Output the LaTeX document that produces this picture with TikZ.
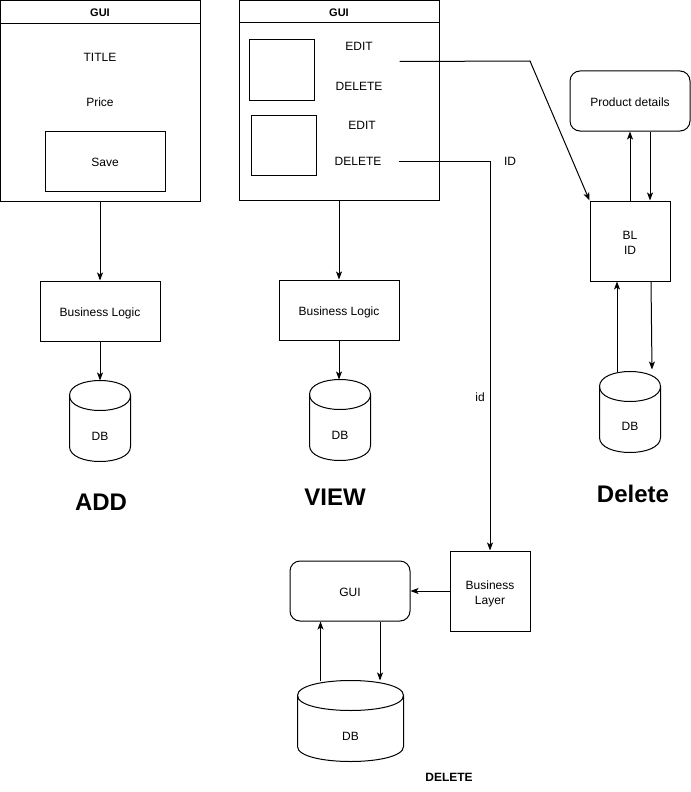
\documentclass[tikz,border=0pt]{standalone}
\usepackage{fontspec}
\setmainfont{Liberation Sans}
\usetikzlibrary{arrows.meta,calc}
\begin{document}
\begin{tikzpicture}[x=0.75pt, y=-0.75pt, line width=0.75pt,
		txt/.style={inner sep=0pt, font=\fontsize{9}{11}\selectfont},
		cell/.style={txt, minimum width=60pt},
		panel/.style={draw, minimum width=150pt, minimum height=150pt, inner sep=0pt},
		box/.style={draw, minimum width=90pt, minimum height=45pt, inner sep=0pt, align=center, text height=9.6pt, text depth=1pt, font=\fontsize{9}{11}\selectfont},
		sqbox/.style={box, minimum width=60pt, minimum height=60pt, text height=20.6pt},
		roundbox/.style={box, rounded corners=7.5pt},
		db/.style={minimum width=45pt, minimum height=60pt, inner sep=0pt},
		head/.style={inner sep=0pt, font=\fontsize{8.25}{10}\selectfont\bfseries},
		big/.style={inner sep=0pt, font=\fontsize{18}{22}\selectfont\bfseries},
		link/.style={-{Stealth[length=6pt, width=4.5pt, inset=1.5pt]}}]
	\useasboundingbox (0,0) rectangle (691,792);
	% ADD
	\node[panel] (guiadd) at (100,101) {};
	\draw (guiadd.west |- 0,24) -- (guiadd.east |- 0,24);
	\node[head] (guiaddhead) at (100,13) {GUI};
	\node[txt] (title) at (100,57.5) {TITLE};
	\node[txt] (price) at (100,102.5) {Price};
	\node[box] (save) at (105,161) {Save};
	\node[box] (bladd) at (100,311) {Business Logic};
	\node[db] (dbadd) at (100,421) {};
	\node[txt] (dbaddtext) at (100,436.5) {DB};
	\node[big] (addlabel) at (101,502) {ADD};
	% VIEW
	\node[panel] (guiview) at (339.5,100.5) {};
	\draw (guiview.west |- 0,23) -- (guiview.east |- 0,23);
	\node[head] (guiviewhead) at (339,13) {GUI};
	\node[draw, minimum width=48.75pt, minimum height=45pt] (itemone) at (281.5,70) {};
	\node[draw, minimum width=48.75pt, minimum height=45pt] (itemtwo) at (283.5,145) {};
	\node[cell] (editone) at (359,46.5) {EDIT};
	\node[cell] (delone) at (359,86.5) {DELETE};
	\node[cell] (edittwo) at (362,125.5) {EDIT};
	\node[cell] (deltwo) at (358,161.5) {DELETE};
	\node[box] (blview) at (339,310) {Business Logic};
	\node[db] (dbview) at (340,420) {};
	\node[txt] (dbviewtext) at (340,435.5) {DB};
	\node[big] (viewlabel) at (335,497) {VIEW};
	% Delete
	\node[roundbox] (product) at (630,101) {Product details};
	\node[sqbox] (blid) at (630,241) {BL\\ID};
	\node[db] (dbdel) at (630,412) {};
	\node[txt] (dbdeltext) at (630,426.5) {DB};
	\node[big] (deletelabel) at (633,494) {Delete};
	% DELETE
	\node[roundbox] (guidel) at (350,591) {GUI};
	\node[sqbox] (layer) at (490,591) {Business\\Layer};
	\node[db, minimum width=78.75pt] (dbbig) at (350.5,721) {};
	\node[txt] (dbbigtext) at (350.5,736.5) {DB};
	\node[txt, font=\fontsize{9}{11}\selectfont\bfseries] (deletesmall) at (449,777.5) {DELETE};
	\node[txt] (idlabel) at (510,161.5) {ID};
	\node[txt] (idsmall) at (480,397) {id};
	\coordinate (bend) at (530,61);

	\foreach \n in {dbadd,dbview,dbdel,dbbig}{
		\draw ($(\n.north west)+(0,15)$) .. controls ($(\n.north west)+(0,-5)$) and ($(\n.north east)+(0,-5)$) .. ($(\n.north east)+(0,15)$)
			-- ($(\n.south east)+(0,-15)$) .. controls ($(\n.south east)+(0,5)$) and ($(\n.south west)+(0,5)$) .. ($(\n.south west)+(0,-15)$) -- cycle;
		\draw ($(\n.north west)+(0,15)$) .. controls ($(\n.north west)+(0,35)$) and ($(\n.north east)+(0,35)$) .. ($(\n.north east)+(0,15)$);}

	\draw[link] (guiadd) -- (bladd);
	\draw[link] (bladd) -- (dbadd);
	\draw[link] (blview.north |- guiview.south) -- (blview.north);
	\draw[link] (blview.south) -- (blview.south |- dbview.north);
	\draw[link] ([yshift=-11.25pt]editone.east) -- (bend) -- (blid.north west);
	\draw[link] (deltwo.east) -- (layer.north |- deltwo.east) -- (layer.north);
	\draw[link] (blid.north) -- (product.south);
	\draw[link] ([xshift=15pt]product.south) -- ([xshift=15pt]blid.north);
	\draw[link] ([xshift=-9.75pt]dbdel.north) -- ([xshift=-9.75pt]blid.south);
	\draw[link] ([xshift=15.75pt]blid.south) -- ([xshift=16.5pt,yshift=1.5pt]dbdel.north);
	\draw[link] (layer.west) -- (guidel.east);
	\draw[link] ([xshift=-22.5pt]dbbig.north) -- ([xshift=-22.5pt]dbbig.north |- guidel.south);
	\draw[link] ([xshift=22.5pt]guidel.south) -- ([xshift=22.5pt]guidel.south |- dbbig.north);
\end{tikzpicture}
\end{document}
